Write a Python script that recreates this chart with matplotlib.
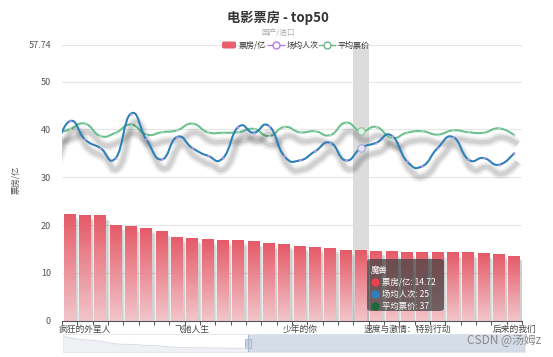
import numpy as np
import matplotlib
matplotlib.use("Agg")
import matplotlib.pyplot as plt
from matplotlib.path import Path
from matplotlib.patches import PathPatch, FancyBboxPatch, Rectangle
import matplotlib.patheffects as pe
from matplotlib.colors import LinearSegmentedColormap

plt.rcParams['font.family'] = ['Noto Sans CJK SC', 'DejaVu Sans']

# ---------------- data ----------------
movies = ['捉妖记2', '疯狂的外星人', '羞羞的铁拳', '海王', '变形金刚4：绝迹重生', '前任3：再见前任',
          '毒液：致命守护者', '功夫瑜伽', '飞驰人生', '烈火英雄', '侏罗纪世界2', '寻龙诀',
          '西游伏妖篇', '港囧', '姜子牙', '少年的你', '变形金刚5：最后的骑士', '疯狂动物城',
          '我和我的父辈', '魔兽', '复仇者联盟2：奥创纪元', '夏洛特烦恼', '速度与激情：特别行动',
          '送你一朵小红花', '芳华', '侏罗纪世界', '蜘蛛侠：英雄远征', '速度与激情9', '头号玩家', '后来的我们']
box_office = [22.35, 22.15, 22.0, 20.1, 19.8, 19.4, 18.7, 17.5, 17.3, 17.05, 16.9, 16.85,
              16.6, 16.15, 16.0, 15.6, 15.45, 15.3, 14.75, 14.72, 14.65, 14.5, 14.35,
              14.35, 14.3, 14.3, 14.3, 14.1, 13.95, 13.6]
# line series as drawn against the left axis (first value = item just before the zoom window)
avg_people = [35.0, 41.7, 37.9, 36.1, 34.0, 43.3, 37.9, 33.7, 38.4, 36.1, 34.5, 34.0, 40.5,
              39.3, 40.7, 34.4, 33.5, 35.4, 37.2, 33.5, 36.1, 37.2, 38.7, 33.3, 32.3,
              36.1, 38.4, 33.7, 34.0, 32.6, 35.1]
avg_price = [39.0, 40.0, 41.2, 38.6, 39.3, 41.0, 38.9, 39.4, 39.8, 41.2, 39.4, 39.3, 39.4,
             40.1, 38.6, 40.5, 39.4, 39.6, 38.8, 41.4, 39.6, 40.5, 38.2, 39.3, 39.6,
             38.9, 39.8, 39.4, 39.3, 40.2, 38.8]
y_max = 57.74
y_ticks = [0, 10, 20, 30, 40, 50, 57.74]
label_idx = [1, 8, 15, 22, 29]
hover_idx = 19
tooltip_title = '魔兽'
tooltip_rows = [('票房/亿', '14.72', '#e8434f'), ('场均人次', '25', '#2f80c0'), ('平均票价', '37', '#1a6a3a')]
slider_shadow = [57.74, 50.35, 46.86, 45.23, 42.5, 36.51, 33.98, 33.9, 31.7, 31.0, 29.12,
                 26.7, 25.47, 24.39, 24.26, 23.9, 23.5, 23.0, 22.8, 22.5]

# ---------------- figure ----------------
W, H = 553, 357
fig = plt.figure(figsize=(W / 100, H / 100), dpi=100)
ax = fig.add_axes([62 / W, 1 - 320.7 / H, 460 / W, (320.7 - 44.5) / H])
n = len(movies)
ax.set_xlim(-0.5, n - 0.5)
ax.set_ylim(0, y_max)

# grid
for t in y_ticks[1:]:
    ax.axhline(t, color='#e6e6e6', lw=0.8, zorder=0)

# highlight band
ax.axvspan(hover_idx - 0.5, hover_idx + 0.5, color='#dcdcdc', zorder=0.5, lw=0)

# bars with shadow + gradient
bw = 0.78
grad = np.linspace(0, 1, 256).reshape(-1, 1)
cmap = LinearSegmentedColormap.from_list('g', ['#f2c6cb', '#e55a68'])
for i, v in enumerate(box_office):
    for k, a in enumerate([0.09, 0.09, 0.11]):
        off = 0.10 + 0.06 * k
        ax.add_patch(Rectangle((i - bw / 2 + off, 0), bw, v - 0.6 - 0.3 * k, facecolor='#505050',
                               alpha=a, lw=0, zorder=1))
    im = ax.imshow(grad, extent=(i - bw / 2, i + bw / 2, 0, v), origin='lower', cmap=cmap,
                   aspect='auto', zorder=2)
    r = Rectangle((i - bw / 2, 0), bw, v, facecolor='none', edgecolor='none', zorder=2)
    ax.add_patch(r)
    im.set_clip_path(r)
ax.set_xlim(-0.5, n - 0.5)
ax.set_ylim(0, y_max)


def smooth_path(xs, ys, s=0.5):
    pts = np.column_stack([xs, ys]).astype(float)
    verts = [pts[0]]
    codes = [Path.MOVETO]
    m = len(pts)
    cps = []
    for i in range(m):
        p0 = pts[max(i - 1, 0)]
        p2 = pts[min(i + 1, m - 1)]
        v = (p2 - p0) * s * 0.5
        if i == 0 or i == m - 1:
            v = v * 0
        cps.append((pts[i] - v, pts[i] + v))
    for i in range(m - 1):
        verts += [cps[i][1], cps[i + 1][0], pts[i + 1]]
        codes += [Path.CURVE4] * 3
    return Path(verts, codes)


lx = np.arange(-1, n)
shadow = [pe.SimpleLineShadow(offset=(2.5, -6.5), shadow_color='black', alpha=0.05, linewidth=7.5),
          pe.SimpleLineShadow(offset=(2.5, -6.5), shadow_color='black', alpha=0.06, linewidth=5),
          pe.SimpleLineShadow(offset=(2.5, -6.5), shadow_color='black', alpha=0.08, linewidth=3),
          pe.Normal()]
for ys, col in [(avg_price, '#6cc191'), (avg_people, '#2e80b8')]:
    p = PathPatch(smooth_path(lx, ys), facecolor='none', edgecolor=col, lw=1.5, zorder=4,
                  path_effects=shadow)
    ax.add_patch(p)

ax.scatter(lx, avg_people, s=3, color='#c69cf0', zorder=5, lw=0)
ax.scatter(lx, avg_price, s=3, color='#b8dcc4', zorder=5, lw=0)
ax.scatter([hover_idx], [avg_people[hover_idx + 1]], s=28, facecolor='#e8e0f4',
           edgecolor='#9fa8d8', lw=0.8, zorder=6)
ax.scatter([hover_idx], [avg_price[hover_idx + 1]], s=28, facecolor='#dcefe2',
           edgecolor='#8fbf9f', lw=0.8, zorder=6)

# axes styling
for s in ['top', 'right', 'left']:
    ax.spines[s].set_visible(False)
ax.spines['bottom'].set_color('#555555')
ax.spines['bottom'].set_linewidth(0.8)
ax.set_yticks(y_ticks)
ax.set_yticklabels(['0', '10', '20', '30', '40', '50', '57.74'])
ax.tick_params(axis='y', length=0, labelsize=6.5, labelcolor='#555555', pad=8)
ax.set_xticks(np.arange(-0.5, n, 1), minor=True)
ax.set_xticks(label_idx)
ax.set_xticklabels([movies[i] for i in label_idx])
ax.tick_params(axis='x', which='major', length=0, labelsize=6.3, labelcolor='#444444', pad=3)
ax.tick_params(axis='x', which='minor', length=3, color='#555555', width=0.7)
ax.set_ylabel('票房/亿', fontsize=6, color='#555555')
ax.yaxis.set_label_coords(-0.09, 0.51)

# title, subtitle
fig.text(278 / W, 1 - 18 / H, '电影票房 - top50', ha='center', va='center', fontsize=9.5,
         fontweight='bold', color='#333333')
fig.text(278 / W, 1 - 33 / H, '国产/进口', ha='center', va='center', fontsize=5.5, color='#aaaaaa')

# legend
ly = 1 - 45 / H
fig.patches.append(FancyBboxPatch((222 / W, ly - 3.5 / H), 14 / W, 7 / H,
                                  boxstyle='round,pad=0,rounding_size=0.004', transform=fig.transFigure,
                                  facecolor='#e8606c', edgecolor='none'))
fig.text(239 / W, ly, '票房/亿', va='center', fontsize=5.8, color='#333333')
for x0, col, lab in [(268, '#b77be8', '场均人次'), (319, '#6cb48a', '平均票价')]:
    fig.lines.append(plt.Line2D([x0 / W, (x0 + 16) / W], [ly, ly], transform=fig.transFigure,
                                color=col, lw=1))
    fig.lines.append(plt.Line2D([(x0 + 8) / W], [ly], transform=fig.transFigure, marker='o',
                                ms=5, mfc='white', mec=col, mew=1))
    fig.text((x0 + 19) / W, ly, lab, va='center', fontsize=5.8, color='#333333')

# tooltip
tx0, ty0, tx1, ty1 = 367, 259, 444, 311
fig.patches.append(FancyBboxPatch((tx0 / W, 1 - ty1 / H), (tx1 - tx0) / W, (ty1 - ty0) / H,
                                  boxstyle='round,pad=0,rounding_size=0.008', transform=fig.transFigure,
                                  facecolor=(0.25, 0.25, 0.25, 0.72), edgecolor='none', zorder=10))
fig.text(371 / W, 1 - 270 / H, tooltip_title, fontsize=6, color='white', va='center', zorder=11)
for k, (lab, val, col) in enumerate(tooltip_rows):
    yy = 1 - (282 + 12 * k) / H
    fig.lines.append(plt.Line2D([375 / W], [yy], transform=fig.transFigure, marker='o', ms=5,
                                mfc=col, mec=col, zorder=11))
    fig.text(382 / W, yy, f'{lab}: {val}', fontsize=6, color='white', va='center', zorder=11)

# data zoom slider
sax = fig.add_axes([63 / W, 1 - 352 / H, (525 - 63) / W, 18 / H])
sx = np.linspace(0, 1, len(slider_shadow))
sax.set_xlim(0, 1)
sax.set_ylim(0, 1)
start = (248 - 63) / (525 - 63)
sv = np.array(slider_shadow)
sxs = sx * start
sys_ = 0.2 + 0.7 * (sv - sv.min()) / (sv.max() - sv.min())
sax.fill_between(np.r_[sxs, 1], 0, np.r_[sys_, 0.05], color='#eef0f4', lw=0)
sax.plot(np.r_[sxs, start, 1], np.r_[sys_, 0.05, 0.05], color='#d4d8e0', lw=0.6)
sax.axvspan(start, 1, color='#d5dde9', lw=0)
sax.plot([start, start], [0, 1], color='#a8b8d0', lw=0.8)
sax.add_patch(Rectangle((start - 0.006, 0.25), 0.012, 0.5, facecolor='#c8d4e6', edgecolor='#9aaac4', lw=0.5))
for s in sax.spines.values():
    s.set_color('#e2e5ea')
    s.set_linewidth(0.6)
sax.set_xticks([])
sax.set_yticks([])

# watermark
fig.text(541 / W, 1 - 340 / H, 'CSDN @汤姆z', ha='right', va='center', fontsize=8.5, color='#8a8a8a')

fig.savefig('out.png', dpi=100)
